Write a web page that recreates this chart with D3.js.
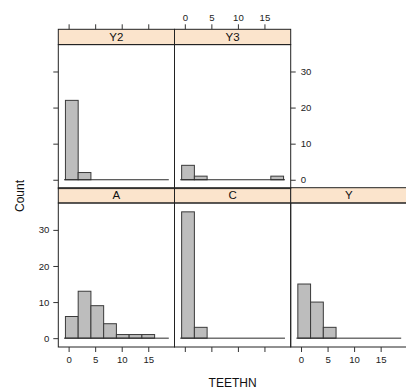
<!DOCTYPE html>
<html>
<head>
<meta charset="utf-8">
<script src="https://cdn.jsdelivr.net/npm/d3@7"></script>
<style>
  html, body { margin: 0; padding: 0; background: #fff; overflow: hidden; }
  svg { display: block; font-family: "Liberation Sans", Arial, Helvetica, sans-serif; }
</style>
</head>
<body>
<svg id="chart" width="406" height="392"></svg>
<script>
// Histogram bin edges shared by every panel (8 bins)
const binStart = -0.6;
const binWidth = 2.4;
const binCount = 8;

// Panel names and per-bin counts
const panels = ["A", "C", "Y", "Y2", "Y3"];
const countsA  = [6, 13, 9, 4, 1, 1, 1, 0];
const countsC  = [35, 3, 0, 0, 0, 0, 0, 0];
const countsY  = [15, 10, 3, 0, 0, 0, 0, 0];
const countsY2 = [22, 2, 0, 0, 0, 0, 0, 0];
const countsY3 = [4, 1, 0, 0, 0, 0, 0, 1];

// Axis ticks
const xTicks = [0, 5, 10, 15];
const yTicks = [0, 10, 20, 30];

const countsByPanel = { A: countsA, C: countsC, Y: countsY, Y2: countsY2, Y3: countsY3 };

// Grid positions: bottom row A, C, Y; top row Y2, Y3
const grid = {
  A:  { col: 0, row: 1 },
  C:  { col: 1, row: 1 },
  Y:  { col: 2, row: 1 },
  Y2: { col: 0, row: 0 },
  Y3: { col: 1, row: 0 }
};

const svg = d3.select("#chart");
const colLeft = 58.3, panelW = 116.2;
const rowTop = [29.3, 187.7];
const stripH = 15.3;
const plotH = 144;

const breaks = d3.range(binCount + 1).map(i => binStart + i * binWidth);
const xPad = (breaks[binCount] - breaks[0]) * 0.07;
const yMax = d3.max(panels, p => d3.max(countsByPanel[p]));
const yPad = yMax * 0.07;

const fontTick = 9.6;

panels.forEach(name => {
  const g0 = grid[name];
  const left = colLeft + g0.col * panelW;
  const top = rowTop[g0.row];
  const plotTop = top + stripH;
  const plotBottom = plotTop + plotH;
  const right = left + panelW;
  const lastCol = g0.col === 2;

  const x = d3.scaleLinear()
    .domain([breaks[0] - xPad, breaks[binCount] + xPad])
    .range([left, right]);
  const y = d3.scaleLinear()
    .domain([-yPad, yMax + yPad])
    .range([plotBottom, plotTop]);

  const g = svg.append("g");

  // bars
  const bins = countsByPanel[name].map((c, i) => ({ x0: breaks[i], x1: breaks[i + 1], c }));
  g.selectAll("rect.bar")
    .data(bins.filter(d => d.c > 0))
    .join("rect")
    .attr("class", "bar")
    .attr("x", d => x(d.x0))
    .attr("width", d => x(d.x1) - x(d.x0))
    .attr("y", d => y(d.c))
    .attr("height", d => y(0) - y(d.c))
    .attr("fill", "#bdbdbd")
    .attr("stroke", "#3a3a3a")
    .attr("stroke-width", 1);

  // baseline
  g.append("line")
    .attr("x1", x(breaks[0] - 0.27)).attr("x2", x(breaks[binCount] + 0.27))
    .attr("y1", y(0)).attr("y2", y(0))
    .attr("stroke", "#2a2a2a").attr("stroke-width", 1);

  // strip (the right-most column runs off the page edge)
  g.append("rect")
    .attr("x", left).attr("y", top)
    .attr("width", panelW + (lastCol ? 4 : 0)).attr("height", stripH)
    .attr("fill", "#fbe4cc").attr("stroke", "#222").attr("stroke-width", 1);
  g.append("text")
    .attr("x", left + panelW / 2).attr("y", top + stripH / 2 + 4)
    .attr("text-anchor", "middle")
    .attr("font-size", 11.5).attr("fill", "#111")
    .text(name);

  // panel border
  g.append("rect")
    .attr("x", left).attr("y", plotTop)
    .attr("width", panelW + (lastCol ? 4 : 0)).attr("height", plotH)
    .attr("fill", "none").attr("stroke", "#222").attr("stroke-width", 1);

  const tickLen = 5;
  const tickColor = "#333";

  // bottom axis (bottom row): labels on A and Y, bare ticks on C
  if (g0.row === 1) {
    const axis = d3.axisBottom(x).tickValues(xTicks).tickSizeOuter(0).tickSizeInner(tickLen).tickPadding(4)
      .tickFormat(g0.col === 1 ? "" : d3.format("d"));
    const a = g.append("g").attr("transform", `translate(0,${plotBottom})`).call(axis);
    styleAxis(a);
  }
  // top axis (top row): labels on Y3, bare ticks on Y2
  if (g0.row === 0) {
    const axis = d3.axisTop(x).tickValues(xTicks).tickSizeOuter(0).tickSizeInner(tickLen).tickPadding(3)
      .tickFormat(g0.col === 1 ? d3.format("d") : "");
    const a = g.append("g").attr("transform", `translate(0,${top})`).call(axis);
    styleAxis(a);
  }
  // left axis: labels on A, bare ticks on Y2
  if (g0.col === 0) {
    const axis = d3.axisLeft(y).tickValues(yTicks).tickSizeOuter(0).tickSizeInner(tickLen).tickPadding(4)
      .tickFormat(g0.row === 1 ? d3.format("d") : "");
    const a = g.append("g").attr("transform", `translate(${left},0)`).call(axis);
    styleAxis(a);
  }
  // right axis: labels on Y3
  if (name === "Y3") {
    const axis = d3.axisRight(y).tickValues(yTicks).tickSizeOuter(0).tickSizeInner(tickLen).tickPadding(5)
      .tickFormat(d3.format("d"));
    const a = g.append("g").attr("transform", `translate(${right},0)`).call(axis);
    styleAxis(a);
  }

  function styleAxis(a) {
    a.select(".domain").remove();
    a.selectAll(".tick line").attr("stroke", tickColor);
    a.selectAll(".tick text")
      .attr("font-size", fontTick)
      .attr("fill", "#222")
      .attr("font-family", "'Liberation Sans', Arial, sans-serif");
  }
});

// axis titles
svg.append("text")
  .attr("x", colLeft + panelW * 1.5).attr("y", 387)
  .attr("text-anchor", "middle")
  .attr("font-size", 12).attr("fill", "#111")
  .text("TEETHN");

svg.append("text")
  .attr("transform", "translate(24,196) rotate(-90)")
  .attr("text-anchor", "middle")
  .attr("font-size", 12).attr("fill", "#111")
  .text("Count");
</script>
</body>
</html>
